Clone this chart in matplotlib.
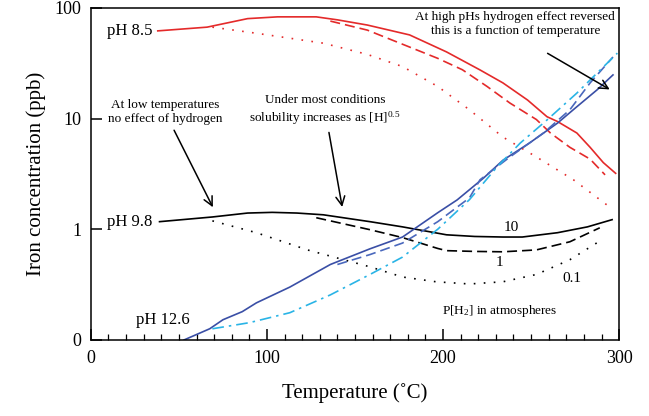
import numpy as np
import matplotlib
matplotlib.use("Agg")
import matplotlib.pyplot as plt

# ==========================================
# Data (T in degC, Fe in ppb)
# ==========================================

# pH 8.5
ph85_p10_t = [38, 66, 89, 106, 128, 140, 157, 181, 202, 221, 234, 248, 259, 265, 276, 283.5, 291, 298]
ph85_p10_y = [62, 67, 80, 83, 83, 78, 70, 57, 40, 27.5, 21, 14.7, 10.4, 9.4, 7.4, 5.5, 4.0, 3.2]

ph85_p1_t = [136, 157, 197, 211, 225, 238, 253, 261, 272, 283.5, 292]
ph85_p1_y = [76, 63, 35, 27.6, 19.5, 13.8, 9.8, 7.4, 5.5, 4.3, 3.1]

ph85_p01_t = [69, 94, 132, 157, 177, 197, 215, 234, 253, 274, 293]
ph85_p01_y = [67, 59, 48, 38, 29.5, 19.5, 12, 6.8, 4.5, 2.8, 1.66]

# pH 9.8
ph98_p10_t = [39, 69, 89, 103, 117, 132, 158.5, 177, 202, 218, 234, 245, 265, 282, 296]
ph98_p10_y = [1.17, 1.29, 1.40, 1.42, 1.40, 1.35, 1.17, 1.05, 0.89, 0.86, 0.85, 0.85, 0.93, 1.05, 1.22]

ph98_p1_t = [128, 158.5, 177, 197, 202, 218, 234, 253, 272, 289]
ph98_p1_y = [1.27, 0.99, 0.84, 0.67, 0.64, 0.63, 0.625, 0.65, 0.77, 1.03]

ph98_p01_t = [69, 94, 123, 158.5, 177, 196, 215, 234, 253, 272, 290]
ph98_p01_y = [1.19, 0.93, 0.65, 0.457, 0.37, 0.335, 0.32, 0.335, 0.39, 0.53, 0.80]

# pH 12.6
ph126_p10_t = [53, 67.5, 75, 86, 94, 113, 136, 158.5, 177, 197, 208, 223, 234, 249, 265, 276, 287.5, 296.5]
ph126_p10_y = [0.1, 0.126, 0.152, 0.18, 0.216, 0.30, 0.48, 0.665, 0.85, 1.41, 1.84, 2.9, 4.2, 6.0, 9.1, 12.8, 18.2, 24.8]

ph126_p1_t = [140, 158.5, 177, 197, 215, 221, 238, 257, 272, 283.5, 296.5]
ph126_p1_y = [0.48, 0.59, 0.75, 1.17, 1.92, 2.8, 4.5, 7.4, 12, 21, 36]

ph126_p01_t = [69, 90, 113, 136, 158.5, 177, 197, 215, 230.7, 243.8, 259, 276, 287.5, 299]
ph126_p01_y = [0.126, 0.143, 0.176, 0.255, 0.39, 0.56, 1.0, 1.85, 3.66, 6.0, 9.7, 17, 25.8, 39]

y_ticks = [0.1, 1, 10, 100]
y_tick_labels = ["0", "1", "10", "100"]
x_ticks = [0, 100, 200, 300]

# ==========================================
# Style
# ==========================================

plt.rcParams["font.family"] = ["Liberation Serif", "DejaVu Serif"]
plt.rcParams["mathtext.fontset"] = "custom"
plt.rcParams["mathtext.rm"] = "Liberation Serif"
plt.rcParams["mathtext.it"] = "Liberation Serif:italic"

red = "#e42a2a"
blue = "#3a4fa6"
blue2 = "#4a68bd"
cyan = "#2ab4e6"
lw = 1.2

fig = plt.figure(figsize=(6.49, 4.16), dpi=100)
ax = fig.add_axes([0.140, 0.183, 0.814, 0.798])

# ==========================================
# Plot
# ==========================================

ax.plot(ph85_p10_t, ph85_p10_y, color=red, lw=lw)
ax.plot(ph85_p1_t, ph85_p1_y, color=red, lw=lw, ls=(0, (6, 3)))
ax.plot(ph85_p01_t, ph85_p01_y, color=red, lw=lw, ls=(0, (1, 5)))

ax.plot(ph98_p10_t, ph98_p10_y, color="black", lw=lw)
ax.plot(ph98_p1_t, ph98_p1_y, color="black", lw=lw, ls=(0, (6, 3)))
ax.plot(ph98_p01_t, ph98_p01_y, color="black", lw=lw, ls=(0, (1, 5)))

ax.plot(ph126_p10_t, ph126_p10_y, color=blue, lw=lw)
ax.plot(ph126_p1_t, ph126_p1_y, color=blue2, lw=lw, ls=(0, (6, 3)))
ax.plot(ph126_p01_t, ph126_p01_y, color=cyan, lw=lw, ls=(0, (7, 3, 1.5, 3)))

ax.set_yscale("log")
ax.set_xlim(0, 300)
ax.set_ylim(0.1, 100)

ax.set_yticks(y_ticks)
ax.set_yticklabels(y_tick_labels)
ax.yaxis.set_minor_locator(matplotlib.ticker.NullLocator())
ax.set_xticks(x_ticks)
ax.set_xticks(np.arange(0, 301, 10), minor=True)

ax.tick_params(axis="both", which="major", direction="in", length=8,
               width=1.1, labelsize=13, pad=7)
ax.tick_params(axis="x", which="minor", direction="in", length=4, width=0.9)

for s in ax.spines.values():
    s.set_linewidth(1.1)

ax.set_xlabel("Temperature (˚C)", fontsize=15, labelpad=12)
ax.set_ylabel("Iron concentration (ppb)", fontsize=15, labelpad=6)

# ==========================================
# Labels and notes
# ==========================================

ax.text(35, 62, "pH 8.5", fontsize=12, ha="right", va="center")
ax.text(35, 1.17, "pH 9.8", fontsize=12, ha="right", va="center")
ax.text(56, 0.15, "pH 12.6", fontsize=12, ha="right", va="center")

ax.text(239, 1.03, "10", fontsize=11, ha="center", va="center")
ax.text(232, 0.50, "1", fontsize=11, ha="center", va="center")
ax.text(273, 0.36, "0.1", fontsize=11, ha="center", va="center")
ax.text(232, 0.183, "P[H$_2$] in atmospheres", fontsize=9.5, ha="center", va="center")

arrow = dict(arrowstyle="->", lw=1.1, color="black", mutation_scale=16)

ax.annotate("At low temperatures\nno effect of hydrogen", xy=(70, 1.5),
            xytext=(42, 11.5), fontsize=9.5, ha="center", va="center",
            linespacing=1.25, arrowprops=arrow)

ax.annotate("Under most conditions\nsolubility increases as [H]$^{0.5}$", xy=(143, 1.5),
            xytext=(133, 11.8), fontsize=9.5, ha="center", va="center",
            linespacing=1.25, arrowprops=arrow)

ax.annotate("", xy=(296, 17.8), xytext=(258, 40), arrowprops=arrow)
ax.text(241, 72, "At high pHs hydrogen effect reversed\nthis is a function of temperature",
        fontsize=9.5, ha="center", va="center", linespacing=1.25)

fig.savefig("out.png", dpi=100)
